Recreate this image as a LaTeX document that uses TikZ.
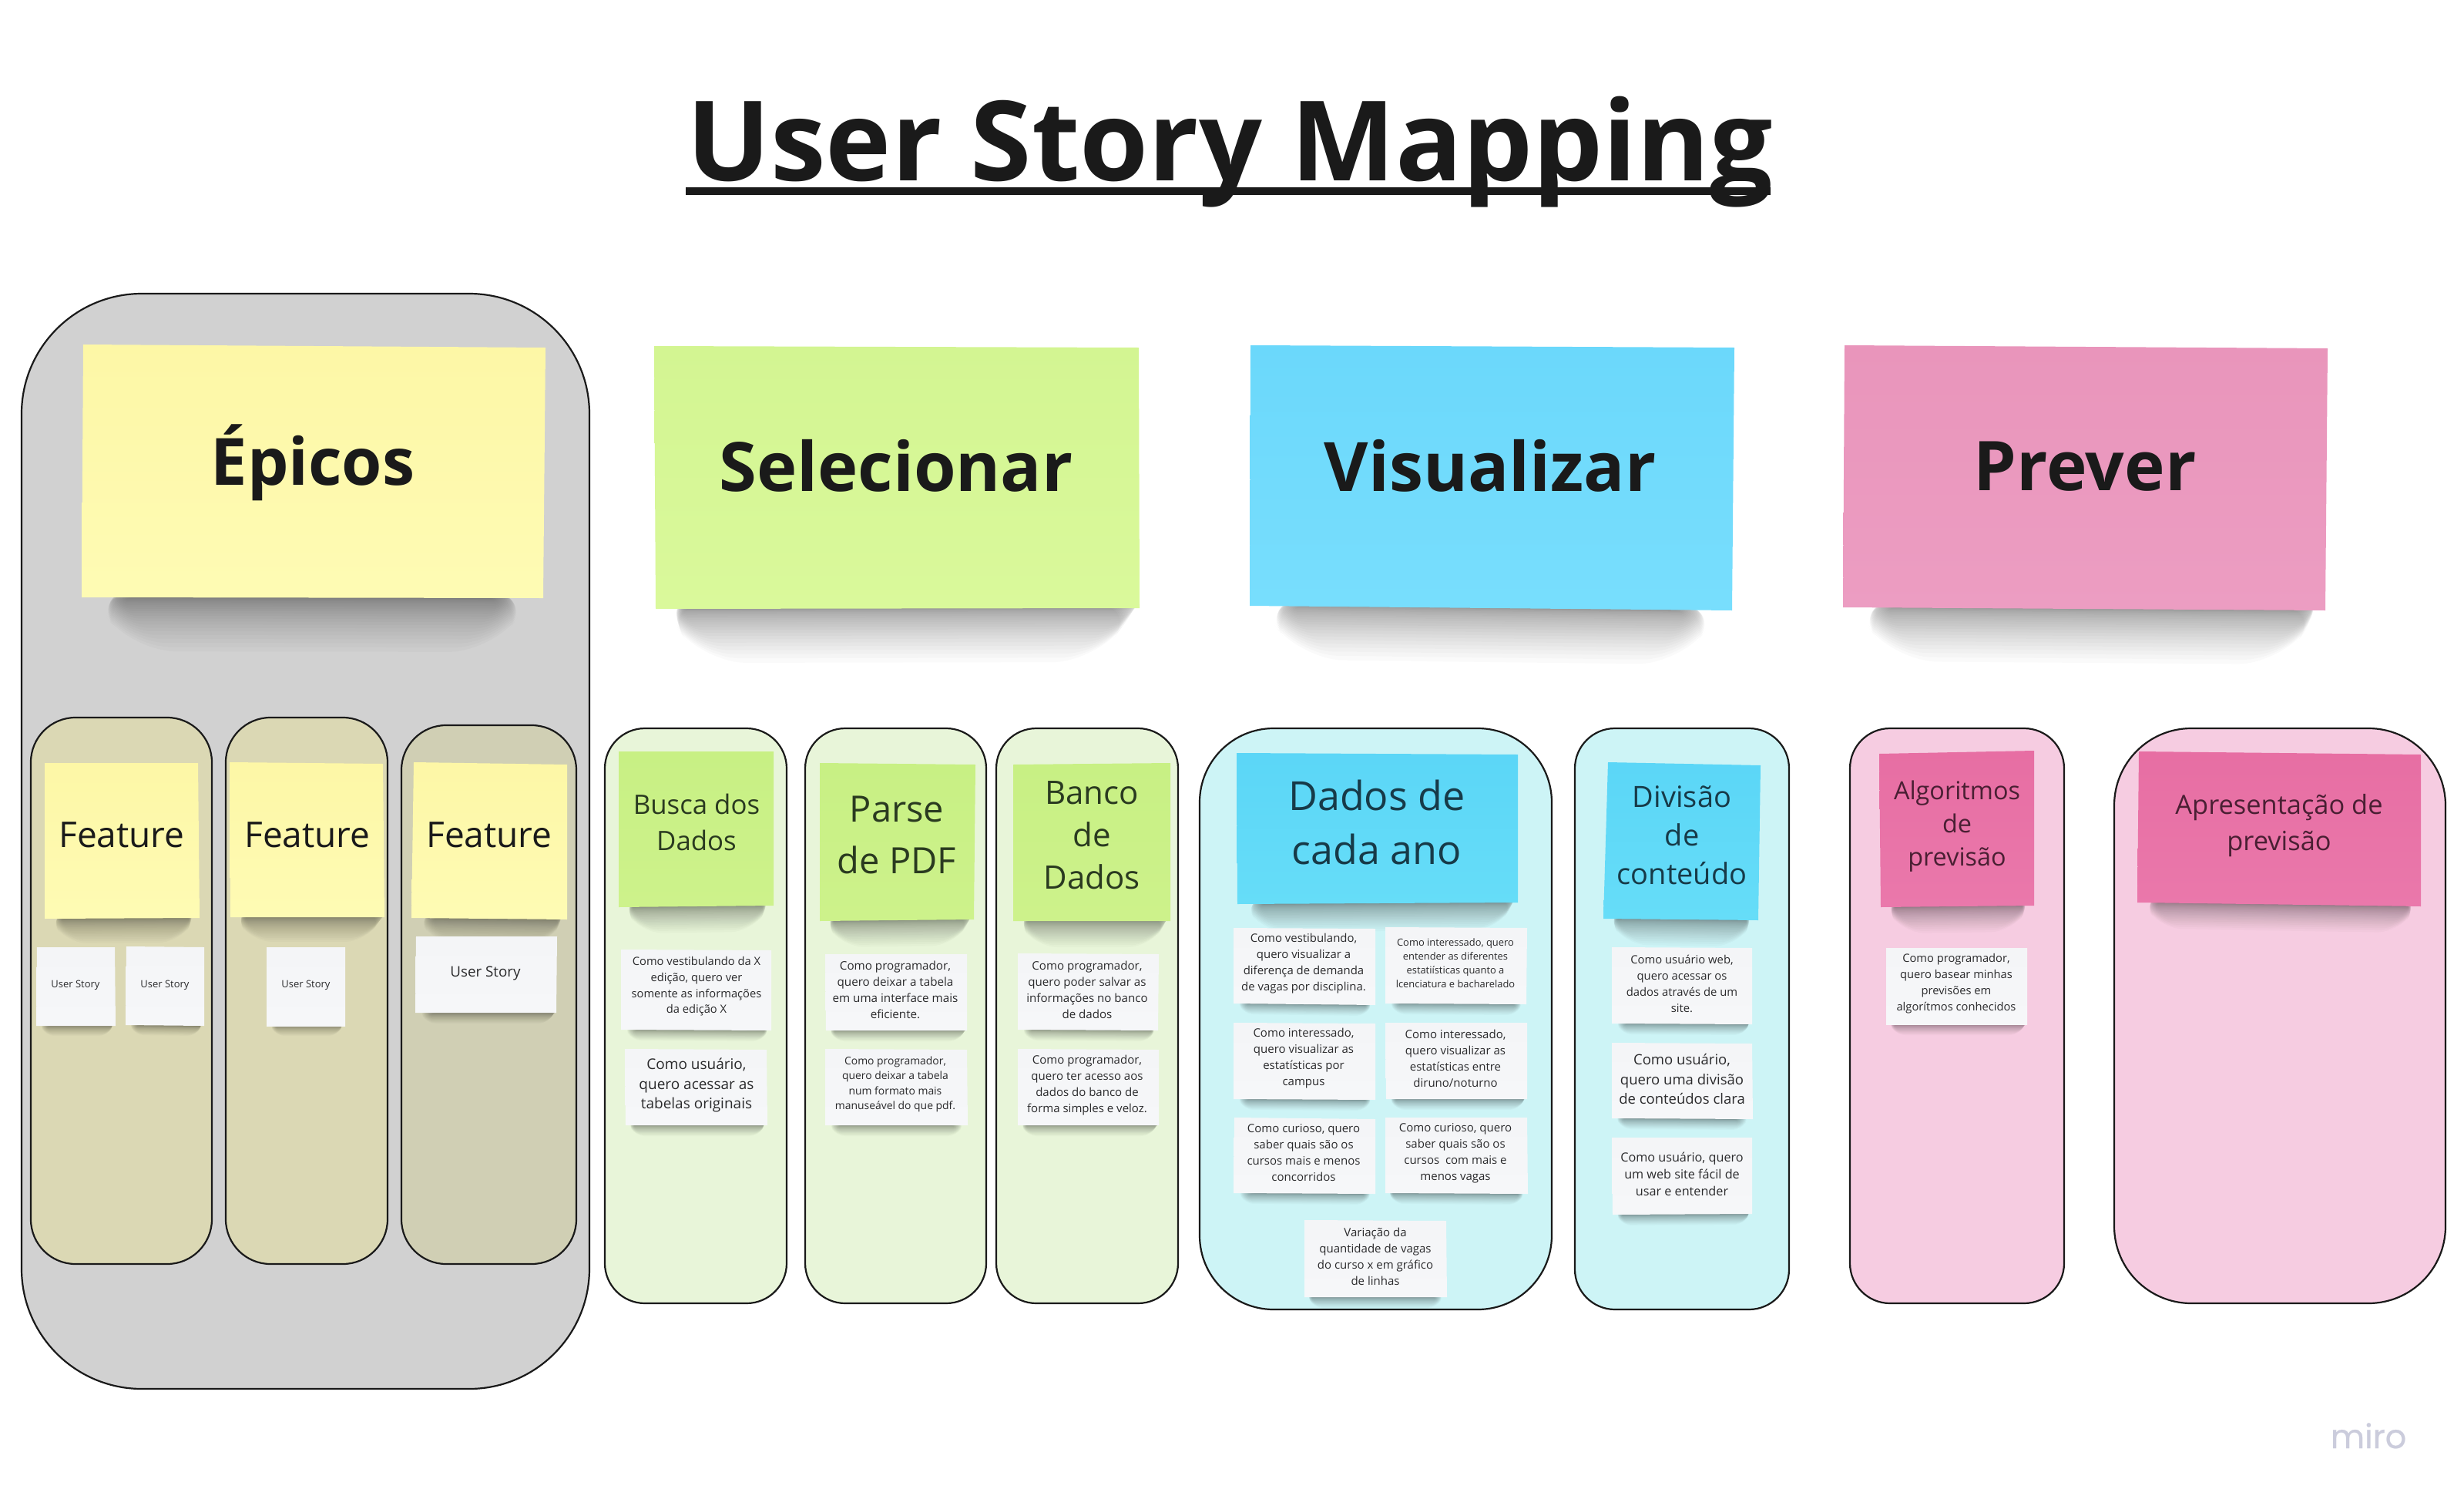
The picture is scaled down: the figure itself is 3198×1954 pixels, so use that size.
\documentclass[tikz,border=0pt]{standalone}
\usepackage{fontspec}
\setmainfont{Open Sans}
\newfontfamily\logofont[FakeBold=0.5]{Poppins}
\definecolor{ink}{HTML}{1A1A1A}
\definecolor{greenink}{HTML}{2A3A20}
\definecolor{cyanink}{HTML}{173A48}
\definecolor{pinkink}{HTML}{4A1F33}
\definecolor{cardink}{HTML}{2A2A2C}
\definecolor{logocol}{HTML}{CBCCDC}
\definecolor{panelgray}{HTML}{D1D1D1}
\definecolor{panelyel}{HTML}{DBD8B4}
\definecolor{panelyelb}{HTML}{D0CFB4}
\definecolor{panelgreen}{HTML}{E8F5D9}
\definecolor{panelcyan}{HTML}{CDF4F6}
\definecolor{panelpink}{HTML}{F6CCE1}
\definecolor{yelA}{HTML}{FDF7A6}\definecolor{yelB}{HTML}{FEFBB4}
\definecolor{grnA}{HTML}{D3F592}\definecolor{grnB}{HTML}{DAF99B}
\definecolor{cyaA}{HTML}{6BD8FB}\definecolor{cyaB}{HTML}{78DEFD}
\definecolor{pnkA}{HTML}{E995BB}\definecolor{pnkB}{HTML}{EC9DC2}
\definecolor{gsmA}{HTML}{C8F084}\definecolor{gsmB}{HTML}{CDF28B}
\definecolor{csmA}{HTML}{5BD6F7}\definecolor{csmB}{HTML}{66DDF8}
\definecolor{psmA}{HTML}{E76EA3}\definecolor{psmB}{HTML}{EA78AB}
\definecolor{whtA}{HTML}{F4F5F7}\definecolor{whtB}{HTML}{F6F7F9}
\tikzset{
  txt/.style={align=center,inner sep=0pt,text=ink},
  cardtxt/.style={align=center,inner sep=0pt,text=cardink},
  yel/.style={top color=yelA,bottom color=yelB},
  grnbig/.style={top color=grnA,bottom color=grnB},
  cyanbig/.style={top color=cyaA,bottom color=cyaB},
  pinkbig/.style={top color=pnkA,bottom color=pnkB},
  grn/.style={top color=gsmA,bottom color=gsmB},
  cyansm/.style={top color=csmA,bottom color=csmB},
  pinksm/.style={top color=psmA,bottom color=psmB},
  wht/.style={top color=whtA,bottom color=whtB},
}
\newcommand{\fs}[2]{\fontsize{#1}{#2}\selectfont}
% panel: name, x1,y1,x2,y2, fill, radius(pt)
\newcommand{\panelbox}[7]{%
  \node[draw=ink,line width=1.1pt,fill=#6,rounded corners=#7pt,inner sep=0pt,
        minimum width={(#4-#2)*0.5pt},minimum height={(#5-#3)*0.5pt}]
        (#1) at ({(#2+#4)/2},{(#3+#5)/2}) {};}
% shadow: bl x,y ; br x,y ; depth , left inset , right inset ;
\def\shdw#1,#2;#3,#4;#5,#6,#7;{%
  \foreach \i in {1,...,24}{%
    \pgfmathsetmacro\t{\i/24}%
    \pgfmathsetmacro\dep{#5*\t*\t}%
    \pgfmathsetmacro\lft{#1+(#3-#1)*(#6*(0.15+0.85*(1-\t)))}%
    \pgfmathsetmacro\rgt{#3-(#3-#1)*(#7*(0.15+0.85*(1-\t)))}%
    \pgfmathsetmacro\rad{\dep*0.4}%
    \fill[black,opacity=.021,rounded corners=\rad pt]
      (\lft,{#2-4}) -- (\rgt,{#4-4}) -- ({\rgt-\dep*0.8},{#4+\dep}) -- ({\lft+\dep*0.8},{#2+\dep}) -- cycle;
  }}
% sticky: style, {depth,left inset,right inset}, tl, tr, br, bl
\newcommand{\stk}[6]{%
  \shdw#6;#5;#2;%
  \path[#1] (#3) -- (#4) -- (#5) -- (#6) -- cycle;}
\begin{document}
\begin{tikzpicture}[x=0.5pt,y=-0.5pt]
\useasboundingbox (0,0) rectangle (3198,1954);
\fill[white] (0,0) rectangle (3198,1954);

% title
\node[txt,font=\bfseries\fs{72}{90}] (title) at (1596,197) {User Story Mapping};
\coordinate (ulL) at (890,248);
\coordinate (ulR) at (2298,248);
\draw[ink,line width=5pt] (ulL) -- (ulR);

% panels
\panelbox{pOuter}{28}{381}{765}{1802}{panelgray}{78}
\panelbox{pF1}{40}{931}{275}{1640}{panelyel}{29}
\panelbox{pF2}{293}{931}{503}{1640}{panelyel}{29}
\panelbox{pF3}{521}{941}{748}{1640}{panelyelb}{29}
\panelbox{pBusca}{785}{945}{1021}{1691}{panelgreen}{26}
\panelbox{pParse}{1045}{945}{1280}{1691}{panelgreen}{26}
\panelbox{pBanco}{1293}{945}{1529}{1691}{panelgreen}{26}
\panelbox{pDados}{1557}{945}{2014}{1699}{panelcyan}{48}
\panelbox{pDiv}{2044}{945}{2322}{1699}{panelcyan}{26}
\panelbox{pAlg}{2401}{945}{2679}{1691}{panelpink}{26}
\panelbox{pApr}{2744}{945}{3174}{1691}{panelpink}{50}

% big stickies
\stk{yel}{70,.11,.12}{108,447}{708,451}{705,776}{106,775}
\stk{grnbig}{70,.06,.01}{849,449}{1478,451}{1479,789}{851,790}
\stk{cyanbig}{70,.11,.12}{1623,448}{2251,451}{2248,792}{1622,786}
\stk{pinkbig}{70,.11,.03}{2394,448}{3021,452}{3018,792}{2392,788}
\node[txt,font=\bfseries\fs{42.3}{60}] (tEpicos) at (406,600) {Épicos};
\node[txt,font=\bfseries\fs{44.2}{60}] (tSel) at (1163,604) {Selecionar};
\node[txt,font=\bfseries\fs{44.2}{60}] (tVis) at (1934,604) {Visualizar};
\node[txt,font=\bfseries\fs{44.5}{60}] (tPre) at (2706,605) {Prever};

% features
\stk{yel}{32,.13,.07}{58,990}{257,990}{259,1191}{58,1192}
\stk{yel}{32,.11,.01}{298,989}{497,991}{499,1190}{299,1190}
\stk{yel}{32,.17,.05}{537,989}{736,992}{736,1193}{534,1191}
\node[txt,font=\fs{23}{30}] (tF1) at (158,1083) {Feature};
\node[txt,font=\fs{23}{30}] (tF2) at (399,1083) {Feature};
\node[txt,font=\fs{23}{30}] (tF3) at (635,1083) {Feature};
\stk{wht}{13,.18,.05}{48,1229}{149,1229}{150,1331}{47,1331}
\stk{wht}{13,.18,.05}{164,1228}{265,1229}{265,1331}{163,1330}
\stk{wht}{13,.15,.05}{346,1229}{448,1229}{448,1331}{346,1331}
\stk{wht}{14,.15,.01}{540,1215}{723,1215}{722,1314}{539,1314}
\node[cardtxt,font=\fs{6.5}{9}] (tUS1) at (98,1278) {User Story};
\node[cardtxt,font=\fs{6.5}{9}] (tUS2) at (214,1278) {User Story};
\node[cardtxt,font=\fs{6.5}{9}] (tUS3) at (397,1278) {User Story};
\node[cardtxt,font=\fs{9.4}{12}] (tUS4) at (630,1263) {User Story};

% medium stickies
\stk{grn}{34,.1,.065}{803,975}{1004,975}{1004,1175}{803,1177}
\stk{grn}{34,.1,.03}{1064,990}{1266,992}{1264,1193}{1064,1195}
\stk{grn}{34,.1,.03}{1315,992}{1519,990}{1519,1195}{1315,1195}
\stk{cyansm}{36,.1,.02}{1605,977}{1970,979}{1970,1171}{1606,1173}
\stk{cyansm}{34,.1,.08}{2087,989}{2285,993}{2282,1194}{2081,1192}
\stk{pinksm}{34,.1,.08}{2439,978}{2640,974}{2640,1175}{2441,1177}
\stk{pinksm}{34,.08,.05}{2776,975}{3142,979}{3142,1176}{2774,1171}
\node[txt,text=greenink,font=\fs{17.4}{23.5}] (tBusca) at (904,1067) {Busca dos\\Dados};
\node[txt,text=greenink,font=\fs{23.5}{33.5}] (tParse) at (1164,1083) {Parse\\de PDF};
\node[txt,text=greenink,font=\fs{21}{27.5}] (tBanco) at (1417,1084) {Banco\\de\\Dados};
\node[txt,text=cyanink,font=\fs{26}{35}] (tDados) at (1787,1067) {Dados de\\cada ano};
\node[txt,text=cyanink,font=\fs{19}{25}] (tDiv) at (2183,1084) {Divisão\\de\\conteúdo};
\node[txt,text=pinkink,font=\fs{16.2}{21.5}] (tAlg) at (2540,1072) {Algoritmos\\de\\previsão};
\node[txt,text=pinkink,font=\fs{17.2}{23.5}] (tApr) at (2958,1071) {Apresentação de\\previsão};

% cards: Selecionar group
\stk{wht}{14,.12,.05}{806,1232}{1001,1233}{1001,1337}{806,1336}
\stk{wht}{14,.07,.03}{811,1361}{995,1362}{996,1460}{812,1460}
\stk{wht}{14,.07,.01}{1071,1238}{1255,1238}{1255,1337}{1072,1337}
\stk{wht}{14,.12,.12}{1071,1361}{1255,1362}{1256,1460}{1071,1460}
\stk{wht}{14,.12,.05}{1321,1237}{1504,1238}{1503,1337}{1321,1336}
\stk{wht}{14,.07,.01}{1321,1361}{1504,1362}{1504,1460}{1321,1460}
\node[cardtxt,font=\fs{7.35}{10.3}] (c1) at (904,1280) {Como vestibulando da X\\edição, quero ver\\somente as informações\\da edição X};
\node[cardtxt,font=\fs{9.5}{12.8}] (c2) at (904,1408) {Como usuário,\\quero acessar as\\tabelas originais};
\node[cardtxt,font=\fs{7.6}{10.5}] (c3) at (1162,1284) {Como programador,\\quero deixar a tabela\\em uma interface mais\\eficiente.};
\node[cardtxt,font=\fs{6.95}{9.7}] (c4) at (1162,1407) {Como programador,\\quero deixar a tabela\\num formato mais\\manuseável do que pdf.};
\node[cardtxt,font=\fs{7.55}{10.5}] (c5) at (1411,1284) {Como programador,\\quero poder salvar as\\informações no banco\\de dados};
\node[cardtxt,font=\fs{7.5}{10.5}] (c6) at (1411,1408) {Como programador,\\quero ter acesso aos\\dados do banco de\\forma simples e veloz.};

% cards: Dados group
\stk{wht}{14,.12,.08}{1601,1204}{1785,1205}{1785,1304}{1601,1302}
\stk{wht}{14,.12,.1}{1798,1203}{1982,1204}{1981,1303}{1798,1302}
\stk{wht}{14,.12,.08}{1601,1327}{1785,1328}{1785,1427}{1601,1426}
\stk{wht}{14,.08,.02}{1798,1327}{1982,1327}{1982,1426}{1799,1426}
\stk{wht}{14,.15,.1}{1602,1450}{1785,1452}{1785,1549}{1601,1548}
\stk{wht}{14,.06,.08}{1798,1450}{1982,1450}{1983,1549}{1798,1548}
\stk{wht}{14,.06,.1}{1693,1583}{1877,1584}{1878,1683}{1693,1683}
\node[cardtxt,font=\fs{7.45}{10.5}] (d1) at (1692,1250) {Como vestibulando,\\quero visualizar a\\diferença de demanda\\de vagas por disciplina.};
\node[cardtxt,font=\fs{6.45}{9}] (d2) at (1889,1250) {Como interessado, quero\\entender as diferentes\\estatiísticas quanto a\\lcenciatura e bacharelado};
\node[cardtxt,font=\fs{7.5}{10.5}] (d3) at (1692,1373) {Como interessado,\\quero visualizar as\\estatísticas por\\campus};
\node[cardtxt,font=\fs{7.5}{10.5}] (d4) at (1889,1373) {Como interessado,\\quero visualizar as\\estatísticas entre\\diruno/noturno};
\node[cardtxt,font=\fs{7.5}{10.5}] (d5) at (1692,1496) {Como curioso, quero\\saber quais são os\\cursos mais e menos\\concorridos};
\node[cardtxt,font=\fs{7.5}{10.5}] (d6) at (1889,1496) {Como curioso, quero\\saber quais são os\\cursos\ \ com mais e\\menos vagas};
\node[cardtxt,font=\fs{7.5}{10.5}] (d7) at (1785,1630) {Variação da\\quantidade de vagas\\do curso x em gráfico\\de linhas};

% cards: Divisao group
\stk{wht}{14,.12,.03}{2092,1229}{2274,1230}{2274,1329}{2092,1328}
\stk{wht}{14,.1,.14}{2092,1353}{2274,1354}{2275,1452}{2092,1451}
\stk{wht}{14,.08,.03}{2092,1476}{2274,1476}{2274,1575}{2093,1576}
\node[cardtxt,font=\fs{7.4}{10.5}] (e1) at (2183,1276) {Como usuário web,\\quero acessar os\\dados através de um\\site.};
\node[cardtxt,font=\fs{9.25}{12.8}] (e2) at (2183,1400) {Como usuário,\\quero uma divisão\\de conteúdos clara};
\node[cardtxt,font=\fs{8.1}{11}] (e3) at (2183,1523) {Como usuário, quero\\um web site fácil de\\usar e entender};

% card: Prever group
\stk{wht}{14,.07,.01}{2448,1230}{2631,1230}{2631,1329}{2448,1329}
\node[cardtxt,font=\fs{7.35}{10.5}] (f1) at (2539,1276) {Como programador,\\quero basear minhas\\previsões em\\algorítmos conhecidos};

% logo
\node[anchor=base,inner sep=0pt,text=logocol,font=\logofont\fs{21.5}{24}] (logo) at (3074,1879) {miro};
\end{tikzpicture}
\end{document}
